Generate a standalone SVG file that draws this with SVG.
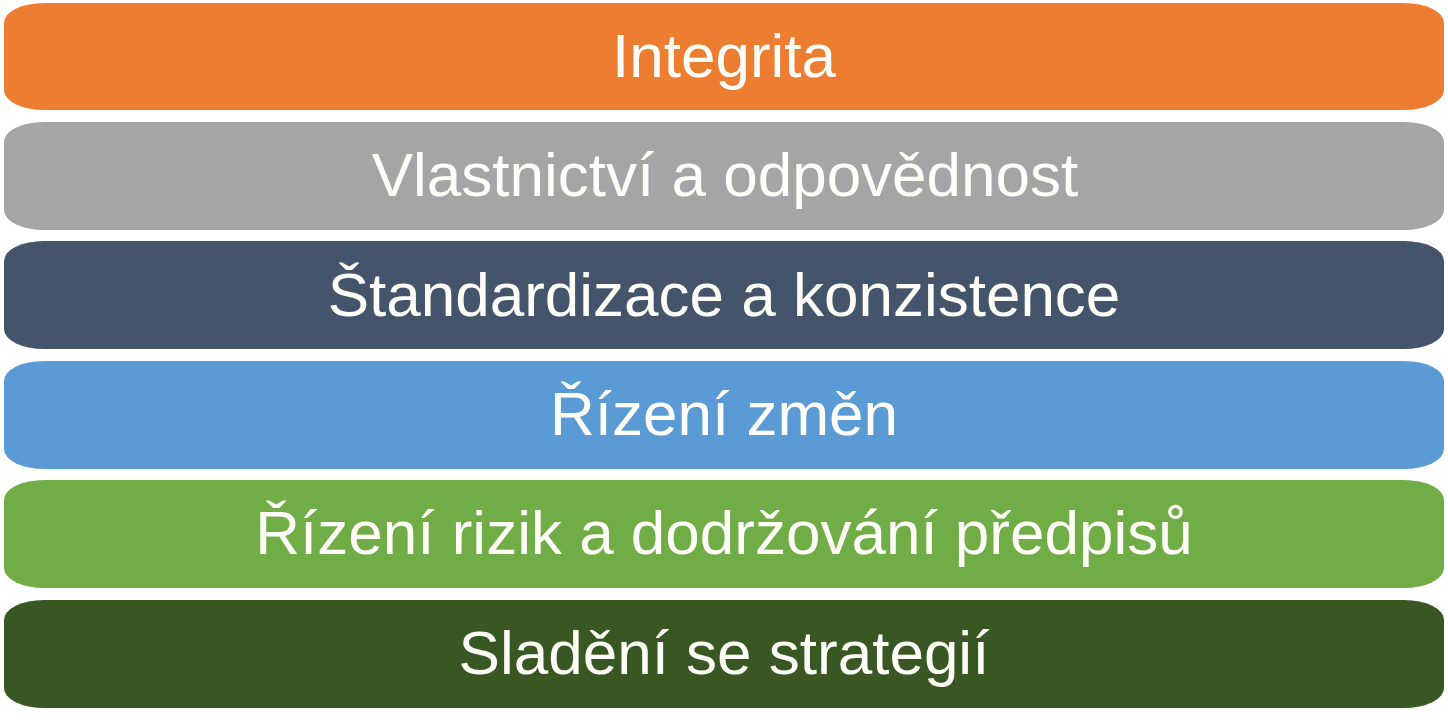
<svg xmlns="http://www.w3.org/2000/svg" width="1448" height="720" viewBox="0 0 1448 720">
<style>
.t{font-family:"Liberation Sans",Arial,sans-serif;font-size:62px;fill:#fffdf7;text-anchor:middle}
</style>
<rect width="1448" height="720" fill="#ffffff"/>
<g id="n1"><rect x="4" y="3" width="1440" height="107" rx="40" ry="20" fill="#ED7D31"/><text class="t" x="724" y="77">Integrita</text></g>
<g id="n2"><rect x="4" y="122" width="1440" height="108" rx="40" ry="20" fill="#A5A5A5"/><text class="t" x="725" y="196">Vlastnictví a odpovědnost</text></g>
<g id="n3"><rect x="4" y="241" width="1440" height="108" rx="40" ry="20" fill="#44546A"/><text class="t" x="724" y="316">Štandardizace a konzistence</text></g>
<g id="n4"><rect x="4" y="361" width="1440" height="108" rx="40" ry="20" fill="#5B9BD5"/><text class="t" x="724" y="435">Řízení změn</text></g>
<g id="n5"><rect x="4" y="480" width="1440" height="108" rx="40" ry="20" fill="#70AD47"/><text class="t" x="724" y="554">Řízení rizik a dodržování předpisů</text></g>
<g id="n6"><rect x="4" y="600" width="1440" height="108" rx="40" ry="20" fill="#385723"/><text class="t" x="724" y="674">Sladění se strategií</text></g>
<g id="connectors"/>
</svg>
